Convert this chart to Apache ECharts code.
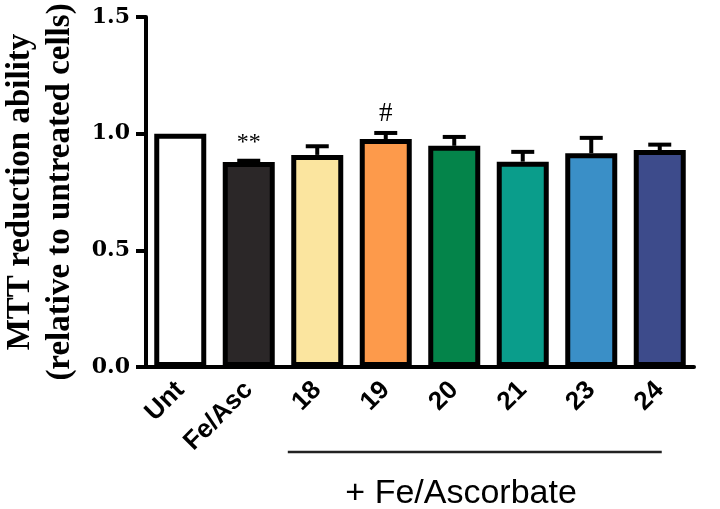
<!DOCTYPE html>
<html>
<head>
<meta charset="utf-8">
<script src="https://cdn.jsdelivr.net/npm/echarts@6/dist/echarts.min.js"></script>
<style>
  html, body { margin: 0; padding: 0; background: #fff; }
  #chart { width: 720px; height: 509px; }
</style>
</head>
<body>
<div id="chart"></div>
<script>
// groups on the x axis
const categories = ['Unt', 'Fe/Asc', '18', '19', '20', '21', '23', '24']
// mean MTT reduction relative to untreated cells
const means = [1.0, 0.879, 0.909, 0.977, 0.948, 0.880, 0.916, 0.930]
// upper error bar (SEM)
const sems = [0, 0.005, 0.037, 0.026, 0.038, 0.042, 0.066, 0.023]
// significance marks above bars
const marks = ['', '**', '', '#', '', '', '', '']
const barColors = ['#ffffff', '#2b2728', '#fbe59f', '#fd9a4b', '#04844a', '#0a9d8b', '#3a8fc7', '#3d4b8b']
const yTicks = [0, 0.5, 1.0, 1.5]

const chart = echarts.init(document.getElementById('chart'))

chart.setOption({
  animation: false,
  backgroundColor: '#ffffff',
  grid: { left: 146, right: 26, top: 17, bottom: 142, outerBoundsMode: 'none' },
  xAxis: {
    type: 'category',
    data: categories,
    axisLine: { lineStyle: { color: '#000', width: 4 } },
    axisTick: { alignWithLabel: true, length: 9, lineStyle: { color: '#000', width: 4 } },
    axisLabel: {
      rotate: 45, margin: 19, color: '#000',
      fontFamily: 'Liberation Sans', fontWeight: 'bold', fontSize: 26,
    },
  },
  yAxis: {
    type: 'value',
    min: yTicks[0], max: yTicks[yTicks.length - 1], interval: 0.5,
    name: 'MTT reduction ability\n(relative to untreated cells)',
    nameLocation: 'middle', nameRotate: 90, nameGap: 66,
    nameTextStyle: {
      color: '#000', fontFamily: 'Liberation Serif', fontWeight: 'bold',
      fontSize: 33, lineHeight: 40,
    },
    axisLine: { show: true, lineStyle: { color: '#000', width: 4 } },
    axisTick: { show: true, length: 10, lineStyle: { color: '#000', width: 4 } },
    splitLine: { show: false },
    axisLabel: {
      margin: 16, color: '#000',
      fontFamily: 'DejaVu Serif', fontWeight: 'bold', fontSize: 22,
      formatter: v => v.toFixed(1),
    },
  },
  series: [
    {
      type: 'bar',
      barWidth: 52,
      data: means.map((v, i) => ({
        value: v,
        itemStyle: { color: barColors[i], borderColor: '#000', borderWidth: 5 },
      })),
    },
    {
      type: 'custom',
      z: 3,
      data: means.map((v, i) => [i, v, v + sems[i]]),
      renderItem(params, api) {
        const i = api.value(0)
        const base = api.coord([i, api.value(1)])
        const top = api.coord([i, api.value(2)])
        const children = []
        if (sems[i] > 0) {
          const s = { stroke: '#000', lineWidth: 4 }
          children.push(
            { type: 'line', shape: { x1: base[0], y1: base[1], x2: top[0], y2: top[1] }, style: s },
            { type: 'line', shape: { x1: top[0] - 11.5, y1: top[1], x2: top[0] + 11.5, y2: top[1] }, style: s },
          )
        }
        if (marks[i]) {
          children.push({
            type: 'text',
            style: {
              text: marks[i], x: top[0], y: top[1] - 6,
              align: 'center', verticalAlign: 'bottom',
              fill: '#000', fontFamily: 'Liberation Serif',
              fontSize: marks[i] === '#' ? 27 : 24,
            },
          })
        }
        return { type: 'group', children }
      },
    },
  ],
})

// group bracket under the treated compounds
const px = c => chart.convertToPixel({ xAxisIndex: 0 }, c)
const step = px('19') - px('18')
chart.setOption({
  graphic: [
    {
      type: 'line',
      shape: { x1: px('18') - 0.43 * step, y1: 452, x2: px('24') + 2, y2: 452 },
      style: { stroke: '#222', lineWidth: 2.5 },
    },
    {
      type: 'text',
      style: {
        text: '+ Fe/Ascorbate', x: px('20') + 0.1 * step, y: 494,
        align: 'center', verticalAlign: 'middle',
        fill: '#000', fontFamily: 'Liberation Sans', fontSize: 34,
      },
    },
  ],
})
</script>
</body>
</html>
